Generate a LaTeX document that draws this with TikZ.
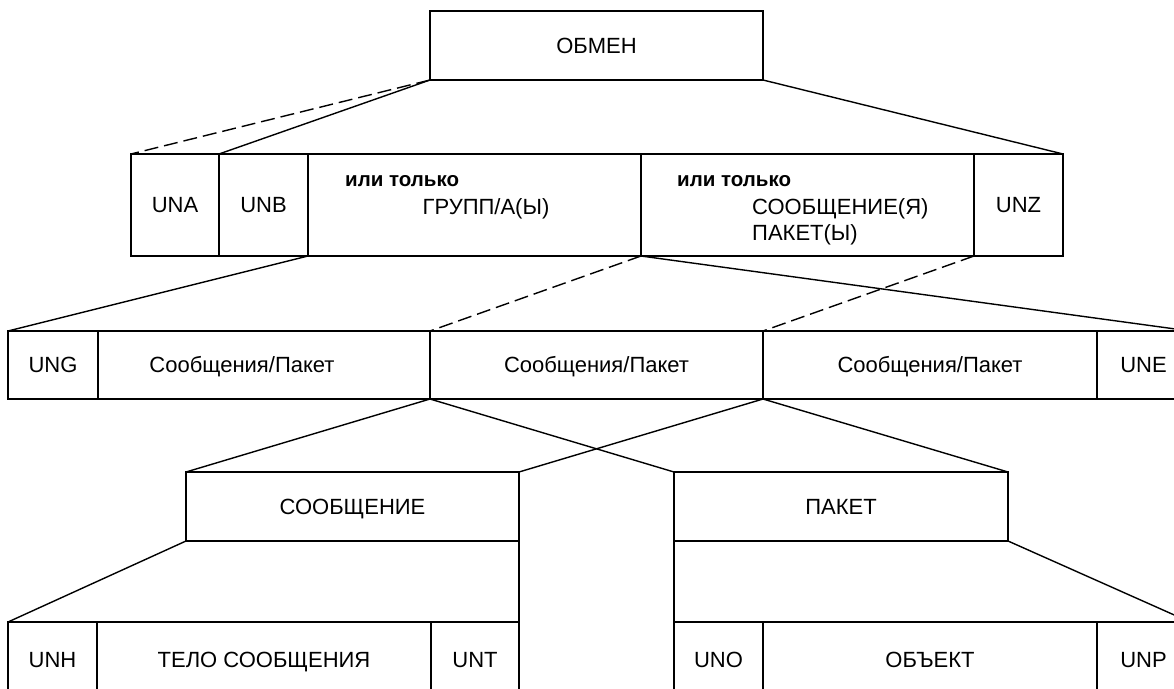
\documentclass[tikz,border=0pt]{standalone}
\usepackage{fontspec}
\setmainfont{Liberation Sans}
\tikzstyle{cellStyle}=[shape = rectangle, draw, line width = 2pt, inner sep = 0pt, outer sep = 0pt, anchor = north west, text height = 15.7pt, text depth = 0pt]
\tikzstyle{textStyle}=[inner sep = 0pt, outer sep = 0pt, text height = 15.7pt, text depth = 0pt]
\tikzstyle{noteStyle}=[inner sep = 0pt, anchor = base west, font = \fontsize{20.5}{24}\selectfont\bfseries]
\tikzstyle{linkStyle}=[line width = 1.4pt]
\tikzstyle{dashStyle}=[line width = 1.4pt, dash pattern = on 14pt off 6pt]

\begin{document}
\begin{tikzpicture}[x = 1pt, y = -1pt, font = \fontsize{22}{26}\selectfont]
\useasboundingbox (0,0) rectangle (1174,688);
\clip (0,0) rectangle (1174,688);
% top
\node[cellStyle, minimum width = 333pt, minimum height = 69pt] (obmen) at (430,11) {ОБМЕН};
% second row
\node[cellStyle, minimum width = 88pt, minimum height = 102pt] (una) at (131,154) {UNA};
\node[cellStyle, minimum width = 89pt, minimum height = 102pt] (unb) at (219,154) {UNB};
\node[cellStyle, minimum width = 333pt, minimum height = 102pt] (grupp) at (308,154) {};
\node[cellStyle, minimum width = 333pt, minimum height = 102pt] (soob) at (641,154) {};
\node[cellStyle, minimum width = 89pt, minimum height = 102pt] (unz) at (974,154) {UNZ};
\node[noteStyle] (gruppNote) at (345,186) {или только};
\node[inner sep = 0pt, anchor = base] (gruppText) at (486,214) {ГРУПП/А(Ы)};
\node[noteStyle] (soobNote) at (677,186) {или только};
\node[inner sep = 0pt, anchor = base west] (soobText) at (752,214) {СООБЩЕНИЕ(Я)};
\node[inner sep = 0pt, anchor = base west] (paketText) at (752,240) {ПАКЕТ(Ы)};
% third row
\node[cellStyle, minimum width = 90pt, minimum height = 68pt] (ung) at (8,331) {UNG};
\node[cellStyle, minimum width = 332pt, minimum height = 68pt] (msg1) at (98,331) {};
\node[cellStyle, minimum width = 333pt, minimum height = 68pt] (msg2) at (430,331) {Сообщения/Пакет};
\node[cellStyle, minimum width = 334pt, minimum height = 68pt] (msg3) at (763,331) {Сообщения/Пакет};
\node[cellStyle, minimum width = 93pt, minimum height = 68pt] (une) at (1097,331) {UNE};
\node[textStyle] (msg1Text) at (242,365) {Сообщения/Пакет};
% message and packet
\node[cellStyle, minimum width = 333pt, minimum height = 69pt] (message) at (186,472) {СООБЩЕНИЕ};
\node[cellStyle, minimum width = 334pt, minimum height = 69pt] (packet) at (674,472) {ПАКЕТ};
% bottom rows
\node[cellStyle, minimum width = 89pt, minimum height = 76pt] (unh) at (8,622) {UNH};
\node[cellStyle, minimum width = 334pt, minimum height = 76pt] (body) at (97,622) {ТЕЛО СООБЩЕНИЯ};
\node[cellStyle, minimum width = 88pt, minimum height = 76pt] (unt) at (431,622) {UNT};
\node[cellStyle, minimum width = 89pt, minimum height = 76pt] (uno) at (674,622) {UNO};
\node[cellStyle, minimum width = 334pt, minimum height = 76pt] (object) at (763,622) {ОБЪЕКТ};
\node[cellStyle, minimum width = 93pt, minimum height = 76pt] (unp) at (1097,622) {UNP};
% links
\draw[dashStyle] (obmen.south west) -- (una.north west);
\draw[linkStyle] (obmen.south west) -- (unb.north west);
\draw[linkStyle] (obmen.south east) -- (unz.north east);
\draw[linkStyle] (unb.south east) -- (ung.north west);
\draw[dashStyle] (grupp.south east) -- (msg2.north west);
\draw[linkStyle] (grupp.south east) -- (une.north east);
\draw[dashStyle] (soob.south east) -- (msg3.north west);
\draw[linkStyle] (msg1.south east) -- (message.north west);
\draw[linkStyle] (msg1.south east) -- (packet.north west);
\draw[linkStyle] (msg3.south west) -- (message.north east);
\draw[linkStyle] (msg3.south west) -- (packet.north east);
\draw[linkStyle] (message.south west) -- (unh.north west);
\draw[linkStyle] (packet.south east) -- (unp.north east);
\draw[cellStyle] (message.south east) -- (unt.north east);
\draw[cellStyle] (packet.south west) -- (uno.north west);
\end{tikzpicture}
\end{document}
